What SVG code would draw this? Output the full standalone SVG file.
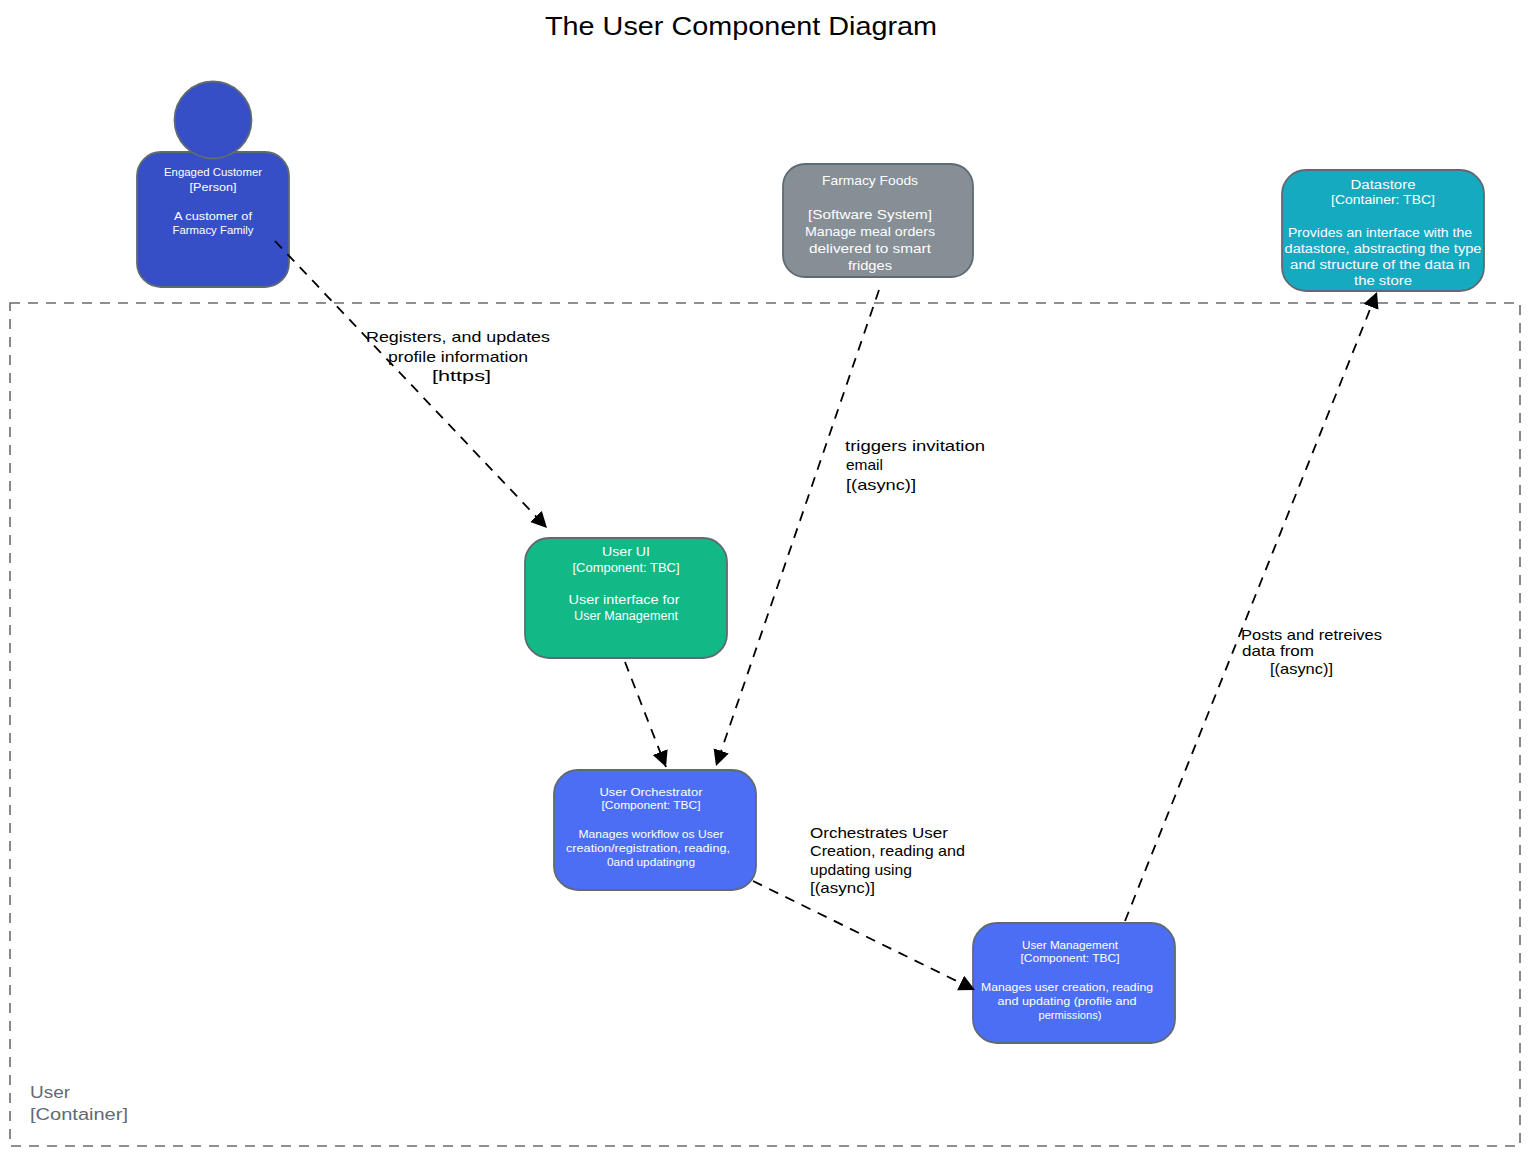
<svg xmlns="http://www.w3.org/2000/svg" width="1530" height="1156" viewBox="0 0 1530 1156">
<style>
text{font-family:"Liberation Sans","DejaVu Sans",sans-serif;}
.t{text-anchor:middle;fill:#fff;}
.s{font-size:11px}
.m{font-size:12px}
.f{font-size:13px}
.l{font-size:15px;fill:#000}
.shape{stroke:#5f6a72;stroke-width:1.8}
.c{fill:none;stroke:#000;stroke-width:1.8;stroke-dasharray:10 8}
</style>
<defs>
<marker id="a" markerUnits="userSpaceOnUse" markerWidth="20" markerHeight="18" refX="16" refY="8" orient="auto"><path d="M0 0L16 8L0 16Z" fill="#000"/></marker>
</defs>
<rect width="1530" height="1156" fill="#fff"/>
<g id="title"><text x="741" y="35" font-size="25" text-anchor="middle" textLength="392" lengthAdjust="spacingAndGlyphs">The User Component Diagram</text></g>
<g id="boundary">
<rect x="10" y="303" width="1510" height="843" fill="none" stroke="#6b6b6b" stroke-width="1.6" stroke-dasharray="10 8"/>
<text x="30" y="1098" font-size="16" fill="#5f6a72" textLength="40" lengthAdjust="spacingAndGlyphs">User</text>
<text x="30" y="1120" font-size="16" fill="#5f6a72" textLength="98" lengthAdjust="spacingAndGlyphs">[Container]</text>
</g>
<g id="customer">
<rect x="137" y="152" width="152" height="135" rx="24" fill="#364fc7" class="shape"/>
<circle cx="213" cy="120" r="38.5" fill="#364fc7" class="shape"/>
<text class="t s" x="213" y="176" textLength="98" lengthAdjust="spacingAndGlyphs">Engaged Customer</text>
<text class="t s" x="213" y="191" textLength="47" lengthAdjust="spacingAndGlyphs">[Person]</text>
<text class="t s" x="213" y="220" textLength="78" lengthAdjust="spacingAndGlyphs">A customer of</text>
<text class="t s" x="213" y="234" textLength="81" lengthAdjust="spacingAndGlyphs">Farmacy Family</text>
</g>
<g id="farmacy">
<rect x="783" y="164" width="190" height="113" rx="22" fill="#868e96" class="shape"/>
<text class="t f" x="870" y="185" textLength="96" lengthAdjust="spacingAndGlyphs">Farmacy Foods</text>
<text class="t f" x="870" y="219" textLength="124" lengthAdjust="spacingAndGlyphs">[Software System]</text>
<text class="t f" x="870" y="236" textLength="130" lengthAdjust="spacingAndGlyphs">Manage meal orders</text>
<text class="t f" x="870" y="253" textLength="122" lengthAdjust="spacingAndGlyphs">delivered to smart</text>
<text class="t f" x="870" y="270" textLength="44" lengthAdjust="spacingAndGlyphs">fridges</text>
</g>
<g id="datastore">
<rect x="1282" y="170" width="202" height="121" rx="24" fill="#15aabf" class="shape"/>
<text class="t m" x="1383" y="189" textLength="65" lengthAdjust="spacingAndGlyphs">Datastore</text>
<text class="t m" x="1383" y="204" textLength="104" lengthAdjust="spacingAndGlyphs">[Container: TBC]</text>
<text class="t m" x="1380" y="237" textLength="184" lengthAdjust="spacingAndGlyphs">Provides an interface with the</text>
<text class="t m" x="1383" y="253" textLength="197" lengthAdjust="spacingAndGlyphs">datastore, abstracting the type</text>
<text class="t m" x="1380" y="269" textLength="180" lengthAdjust="spacingAndGlyphs">and structure of the data in</text>
<text class="t m" x="1383" y="285" textLength="58" lengthAdjust="spacingAndGlyphs">the store</text>
</g>
<g id="user-ui">
<rect x="525" y="538" width="202" height="120" rx="24" fill="#12b886" class="shape"/>
<text class="t m" x="626" y="556" textLength="48" lengthAdjust="spacingAndGlyphs">User UI</text>
<text class="t m" x="626" y="572" textLength="107" lengthAdjust="spacingAndGlyphs">[Component: TBC]</text>
<text class="t m" x="624" y="604" textLength="111" lengthAdjust="spacingAndGlyphs">User interface for</text>
<text class="t m" x="626" y="620" textLength="104" lengthAdjust="spacingAndGlyphs">User Management</text>
</g>
<g id="user-orchestrator">
<rect x="554" y="770" width="202" height="120" rx="24" fill="#4c6ef5" class="shape"/>
<text class="t s" x="651" y="796" textLength="103" lengthAdjust="spacingAndGlyphs">User Orchestrator</text>
<text class="t s" x="651" y="809" textLength="99" lengthAdjust="spacingAndGlyphs">[Component: TBC]</text>
<text class="t s" x="651" y="838" textLength="145" lengthAdjust="spacingAndGlyphs">Manages workflow os User</text>
<text class="t s" x="648" y="852" textLength="164" lengthAdjust="spacingAndGlyphs">creation/registration, reading,</text>
<text class="t s" x="651" y="866" textLength="88" lengthAdjust="spacingAndGlyphs">0and updatingng</text>
</g>
<g id="user-management">
<rect x="973" y="923" width="202" height="120" rx="24" fill="#4c6ef5" class="shape"/>
<text class="t s" x="1070" y="949" textLength="96" lengthAdjust="spacingAndGlyphs">User Management</text>
<text class="t s" x="1070" y="962" textLength="99" lengthAdjust="spacingAndGlyphs">[Component: TBC]</text>
<text class="t s" x="1067" y="991" textLength="172" lengthAdjust="spacingAndGlyphs">Manages user creation, reading</text>
<text class="t s" x="1067" y="1005" textLength="139" lengthAdjust="spacingAndGlyphs">and updating (profile and</text>
<text class="t s" x="1070" y="1019" textLength="63" lengthAdjust="spacingAndGlyphs">permissions)</text>
</g>
<g id="connectors">
<path class="c" d="M275 241L547 528" marker-end="url(#a)"/>
<path class="c" d="M879 290L716 766" marker-end="url(#a)"/>
<path class="c" d="M625 662L666 767" marker-end="url(#a)"/>
<path class="c" d="M753 881L975 990" marker-end="url(#a)"/>
<path class="c" d="M1125 921L1377 292" marker-end="url(#a)"/>
</g>
<g id="connector-labels">
<text class="l" x="366" y="342" textLength="184" lengthAdjust="spacingAndGlyphs">Registers, and updates</text>
<text class="l" x="388" y="362" textLength="140" lengthAdjust="spacingAndGlyphs">profile information</text>
<text class="l" x="432" y="381" textLength="59" lengthAdjust="spacingAndGlyphs">[https]</text>
<text class="l" x="845" y="451" textLength="140" lengthAdjust="spacingAndGlyphs">triggers invitation</text>
<text class="l" x="846" y="470" textLength="37" lengthAdjust="spacingAndGlyphs">email</text>
<text class="l" x="846" y="490" textLength="70" lengthAdjust="spacingAndGlyphs">[(async)]</text>
<text class="l" x="810" y="838" textLength="138" lengthAdjust="spacingAndGlyphs">Orchestrates User</text>
<text class="l" x="810" y="856" textLength="155" lengthAdjust="spacingAndGlyphs">Creation, reading and</text>
<text class="l" x="810" y="875" textLength="102" lengthAdjust="spacingAndGlyphs">updating using</text>
<text class="l" x="810" y="893" textLength="65" lengthAdjust="spacingAndGlyphs">[(async)]</text>
<text class="l" x="1241" y="640" textLength="141" lengthAdjust="spacingAndGlyphs">Posts and retreives</text>
<text class="l" x="1242" y="656" textLength="72" lengthAdjust="spacingAndGlyphs">data from</text>
<text class="l" x="1270" y="674" textLength="63" lengthAdjust="spacingAndGlyphs">[(async)]</text>
</g>
</svg>
